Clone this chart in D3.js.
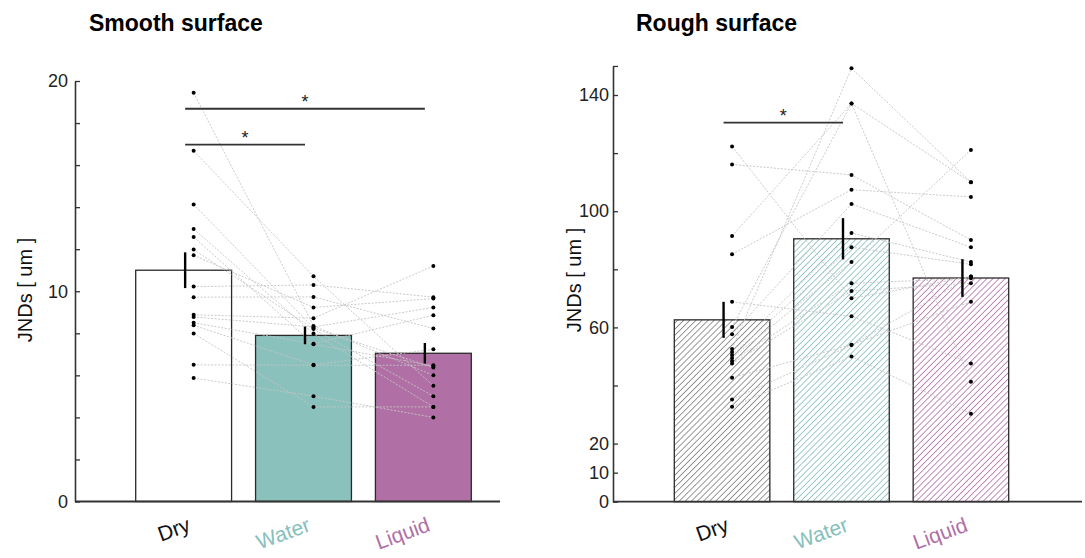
<!DOCTYPE html>
<html>
<head>
<meta charset="utf-8">
<script src="https://cdn.jsdelivr.net/npm/d3@7"></script>
<style>
  html, body { margin: 0; padding: 0; background: #fff; }
  svg { display: block; font-family: "Liberation Sans", Arial, Helvetica, sans-serif; }
</style>
</head>
<body>
<svg id="chart" width="1085" height="558"></svg>
<script>
// ---------------- DATA ----------------
const categories = ["Dry", "Water", "Liquid"];
const categoryColors = ["#777777", "#7dbcb7", "#ad68a3"];
const labelColors = ["#111111", "#86c0bc", "#b06fa6"];

// Smooth surface (bar = mean, err = SEM)
const smoothMeans = [11.0, 7.9, 7.05];
const smoothErr = [0.85, 0.42, 0.49];
// per participant (same index = same participant)
const smoothDry    = [19.44, 16.68, 14.13, 12.96, 12.58, 11.98, 11.71, 10.22, 9.72, 8.88, 8.78, 8.50, 8.38, 7.99, 6.50, 5.87];
const smoothWater  = [8.35, 10.71, 8.25, 7.99, 7.48, 8.20, 9.23, 10.30, 9.73, 8.72, 8.30, 7.50, 6.50, 4.50, 6.48, 5.01];
const smoothLiquid = [6.00, 5.50, 6.37, 4.50, 6.45, 5.01, 9.65, 9.72, 8.23, 11.20, 9.23, 8.86, 7.24, 4.50, 6.48, 4.00];

// Rough surface
const roughMeans = [62.6, 90.5, 77.0];
const roughErr = [6.2, 7.1, 6.5];
const roughDry    = [122.3, 116.1, 91.5, 85.2, 68.8, 60.1, 57.6, 52.6, 51.5, 50.5, 49.5, 48.4, 47.6, 42.7, 35.2, 32.7];
const roughWater  = [70.0, 112.5, 137.1, 107.4, 63.8, 137.1, 102.5, 149.2, 92.5, 87.6, 82.5, 75.2, 72.5, 54.0, 53.9, 50.0];
const roughLiquid = [77.5, 90.1, 110.0, 104.9, 47.6, 41.3, 87.6, 110.0, 82.5, 81.7, 121.1, 76.9, 75.2, 68.8, 77.5, 30.3];

// Ticks
const smoothTicks = [0, 10, 20];
const smoothMinorTicks = [2, 4, 6, 8, 12, 14, 16, 18];
const roughTicks = [0, 10, 20, 60, 100, 140];
const roughMinorTicks = [40, 80, 120, 150];

// Significance brackets
const smoothSig = [{ from: "Dry", to: "Water", level: 16.97, label: "*" },
                   { from: "Dry", to: "Liquid", level: 18.68, label: "*" }];
const roughSig = [{ from: "Dry", to: "Water", level: 130.5, label: "*" }];

const titles = ["Smooth surface", "Rough surface"];
const yTitle = "JNDs [ um ]";

// ---------------- DRAW ----------------
const svg = d3.select("#chart");
const defs = svg.append("defs");
categories.forEach((c, i) => {
  const p = defs.append("pattern")
    .attr("id", "hatch" + i)
    .attr("patternUnits", "userSpaceOnUse")
    .attr("width", 4.3).attr("height", 4.3)
    .attr("patternTransform", "rotate(45)");
  p.append("rect").attr("width", 4.3).attr("height", 4.3).attr("fill", "#fff");
  p.append("line").attr("x1", 0).attr("y1", 0).attr("x2", 0).attr("y2", 4.3)
    .attr("stroke", categoryColors[i]).attr("stroke-width", 1.5);
});

function panel(cfg) {
  const g = svg.append("g");
  const x = d3.scaleBand().domain(categories).range(cfg.barRange).paddingInner(0.2).paddingOuter(0);
  const y = d3.scaleLinear().domain(cfg.yDomain).range(cfg.yRange);
  const cx = c => x(c) + x.bandwidth() / 2;
  const dotX = c => cx(c) + 10;
  const errX = c => cx(c) + 1.5;

  // title
  g.append("text").attr("x", cfg.titleX).attr("y", 31)
    .attr("font-size", 23).attr("font-weight", "bold").attr("fill", "#000")
    .text(cfg.title);

  // bars
  g.selectAll("rect.bar").data(categories).join("rect")
    .attr("class", "bar")
    .attr("x", c => x(c))
    .attr("width", x.bandwidth())
    .attr("y", (c, i) => y(cfg.means[i]))
    .attr("height", (c, i) => y(0) - y(cfg.means[i]))
    .attr("fill", (c, i) => cfg.fills[i])
    .attr("stroke", "#2a2a2a").attr("stroke-width", 1.3);

  // participant lines
  const n = cfg.series[0].length;
  const parts = d3.range(n).map(k => categories.map((c, i) => ({ c, v: cfg.series[i][k] })));
  const line = d3.line().x(d => dotX(d.c)).y(d => y(d.v));
  g.selectAll("path.pl").data(parts).join("path")
    .attr("class", "pl")
    .attr("d", line)
    .attr("fill", "none")
    .attr("stroke", "#c4c4c4")
    .attr("stroke-width", 0.9)
    .attr("stroke-dasharray", "2,1.5");

  // dots
  categories.forEach((c, i) => {
    g.selectAll("circle.d" + i).data(cfg.series[i]).join("circle")
      .attr("class", "d" + i)
      .attr("cx", dotX(c)).attr("cy", v => y(v)).attr("r", 2)
      .attr("fill", "#000");
  });

  // error bars
  g.selectAll("line.err").data(categories).join("line")
    .attr("class", "err")
    .attr("x1", c => errX(c)).attr("x2", c => errX(c))
    .attr("y1", (c, i) => y(cfg.means[i] + cfg.errs[i]))
    .attr("y2", (c, i) => y(cfg.means[i] - cfg.errs[i]))
    .attr("stroke", "#000").attr("stroke-width", 2.4);

  // significance brackets
  cfg.sig.forEach(s => {
    g.append("line")
      .attr("x1", errX(s.from)).attr("x2", errX(s.to))
      .attr("y1", y(s.level)).attr("y2", y(s.level))
      .attr("stroke", "#333").attr("stroke-width", 1.8);
    g.append("text")
      .attr("x", (errX(s.from) + errX(s.to)) / 2)
      .attr("y", y(s.level) - 1)
      .attr("text-anchor", "middle")
      .attr("font-size", 18).attr("fill", "#222")
      .text(s.label);
  });

  // y axis (major)
  const ax = g.append("g").attr("transform", `translate(${cfg.axisX},0)`)
    .call(d3.axisLeft(y).tickValues(cfg.ticks).tickSize(-5).tickSizeOuter(0).tickPadding(cfg.tickPad).tickFormat(d3.format("d")));
  ax.select(".domain").attr("stroke", "#333").attr("stroke-width", 1.6);
  ax.selectAll(".tick line").attr("stroke", "#333").attr("stroke-width", 1.3);
  ax.selectAll(".tick text").attr("font-size", 18).attr("fill", "#222")
    .attr("font-family", "'Liberation Sans', Arial, sans-serif");
  // y axis (minor)
  const axm = g.append("g").attr("transform", `translate(${cfg.axisX},0)`)
    .call(d3.axisLeft(y).tickValues(cfg.minor).tickSize(-5).tickSizeOuter(0).tickFormat(""));
  axm.select(".domain").remove();
  axm.selectAll(".tick line").attr("stroke", "#333").attr("stroke-width", 1.3);

  // x baseline
  const xb = d3.scaleLinear().domain([0, 1]).range([cfg.axisX, cfg.baseEnd]);
  g.append("line")
    .attr("x1", xb(0)).attr("x2", xb(1))
    .attr("y1", y(0)).attr("y2", y(0))
    .attr("stroke", "#333").attr("stroke-width", 1.8);

  // x labels
  g.selectAll("text.xl").data(categories).join("text")
    .attr("class", "xl")
    .attr("text-anchor", "end")
    .attr("font-size", 21)
    .attr("fill", (c, i) => labelColors[i])
    .attr("transform", c => `translate(${cx(c) + 8},${y(0) + 29}) rotate(-20)`)
    .text(c => c);

  // y title
  g.append("text")
    .attr("transform", `translate(${cfg.yTitleX},${cfg.yTitleY}) rotate(-90)`)
    .attr("text-anchor", "middle")
    .attr("font-size", 20).attr("fill", "#111")
    .text(yTitle);
}

panel({
  title: titles[0], titleX: 89,
  barRange: [135.7, 471.3],
  yDomain: [0, 20], yRange: [501.5, 81],
  means: smoothMeans, errs: smoothErr,
  series: [smoothDry, smoothWater, smoothLiquid],
  fills: ["#ffffff", "#8bc1bd", "#b070a5"],
  ticks: smoothTicks, minor: smoothMinorTicks,
  sig: smoothSig,
  axisX: 75, baseEnd: 500, tickPad: 7,
  yTitleX: 32, yTitleY: 290
});

panel({
  title: titles[1], titleX: 636,
  barRange: [674.3, 1008.7],
  yDomain: [0, 150], yRange: [501.7, 65.95],
  means: roughMeans, errs: roughErr,
  series: [roughDry, roughWater, roughLiquid],
  fills: ["url(#hatch0)", "url(#hatch1)", "url(#hatch2)"],
  ticks: roughTicks, minor: roughMinorTicks,
  sig: roughSig,
  axisX: 613, baseEnd: 1082, tickPad: 4,
  yTitleX: 581, yTitleY: 280
});
</script>
</body>
</html>
